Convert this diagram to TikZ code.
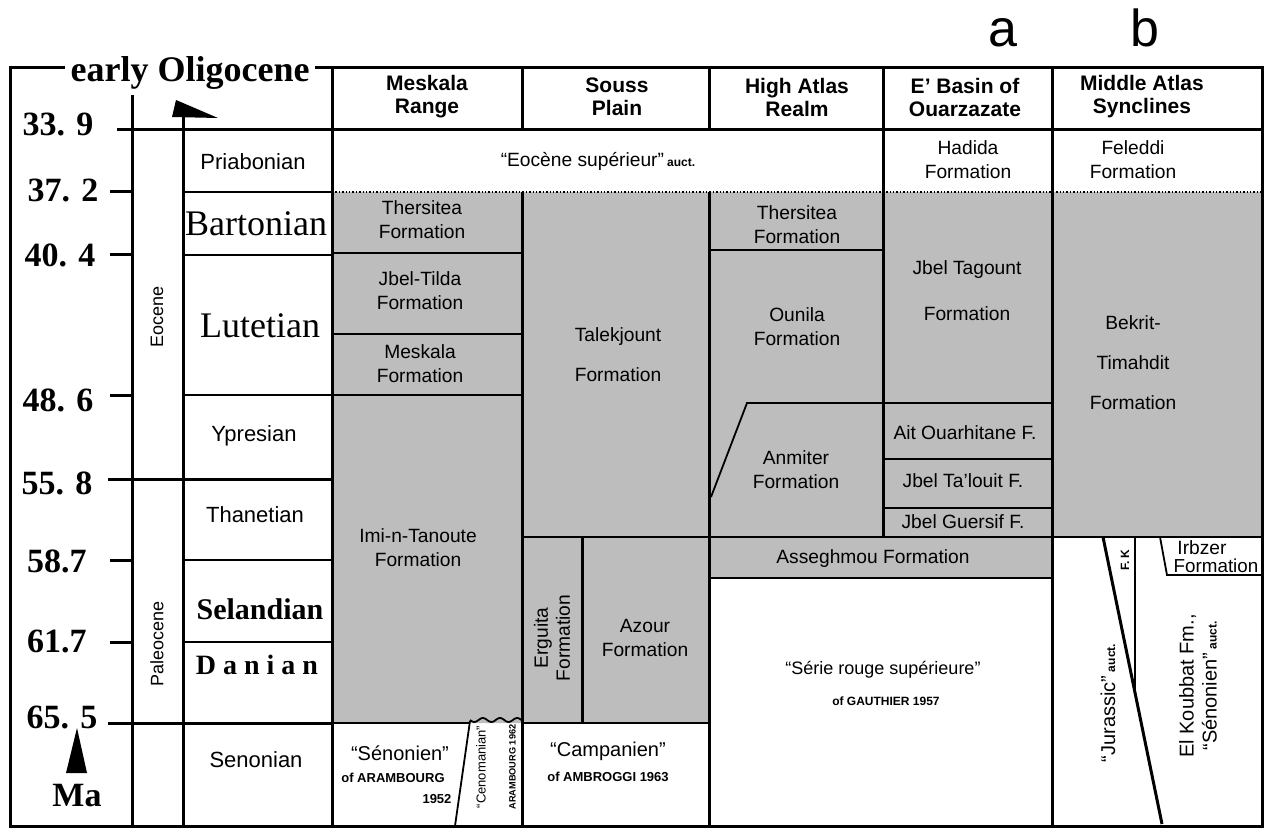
\documentclass[tikz,border=0pt]{standalone}
\usepackage{fontspec}
\setmainfont{Liberation Sans}
\newfontfamily\tms{Liberation Serif}
\usepackage{xcolor}
\usepackage{tikz}

\definecolor{stip}{gray}{0.74}
\newcommand{\auctnote}{\,{\fontsize{6}{6}\selectfont\bfseries auct.}}
\tikzset{
	bnd/.style={line width=1.5pt},
	thn/.style={line width=0.9pt},
	edge/.style={line width=0.7pt, densely dotted},
	hdr/.style={font=\bfseries\fontsize{10.5}{11.5}\selectfont, align=center, inner sep=0pt},
	frm/.style={font=\fontsize{9.6}{12}\selectfont, align=center, inner sep=0pt},
	stg/.style={font=\fontsize{11}{12}\selectfont, inner sep=0pt},
	big/.style={font=\tms\fontsize{18}{18}\selectfont, inner sep=0pt},
	age/.style={font=\tms\bfseries\fontsize{17}{17}\selectfont, inner sep=0pt},
	cite/.style={font=\bfseries\fontsize{6.5}{7}\selectfont, inner sep=0pt},
}

\begin{document}
\begin{tikzpicture}[x=0.5pt,y=-0.5pt]
	\useasboundingbox (0,0) rectangle (1266,829);

	\fill[stip] (332,192) -- (1262,192) -- (1262,537) -- (1052,537) -- (1052,578) -- (709,578) -- (709,723) -- (332,723) -- cycle;
	\draw[edge] (332,192) -- (1262,192);

	% frame and axis
	\draw[bnd] (10,826) -- (10,68) -- (1262,68) -- (1262,826) -- cycle;
	\node[age, font=\tms\bfseries\fontsize{18}{18}\selectfont, fill=white, inner xsep=3pt, anchor=base] (earlyOligocene) at (190,82) {early Oligocene};
	\node[font=\fontsize{26}{26}\selectfont, anchor=base, inner sep=0pt] (colA) at (1003,47) {a};
	\node[font=\fontsize{26}{26}\selectfont, anchor=base, inner sep=0pt] (colB) at (1145,47) {b};

	\draw[bnd] (117,130) -- (1262,130);
	\draw[bnd] (132,95) -- (132,826);
	\draw[bnd] (183,826) -- (183,112);
	\fill (176,100) -- (218,118) -- (172,117) -- cycle;
	\fill (77,728) -- (87,773) -- (66,773) -- cycle;
	\node[age] (ma) at (77,796) {Ma};

	\draw[bnd] (110,192) -- (132,192);
	\draw[bnd] (110,255) -- (132,255);
	\draw[bnd] (110,395) -- (132,395);
	\draw[bnd] (108,479) -- (332,479);
	\draw[bnd] (110,560) -- (132,560);
	\draw[bnd] (110,642) -- (132,642);
	\draw[bnd] (108,723) -- (332,723);
	\draw[thn] (183,192) -- (332,192);
	\draw[thn] (183,255) -- (332,255);
	\draw[thn] (183,395) -- (332,395);
	\draw[thn] (183,560) -- (332,560);
	\draw[thn] (183,642) -- (332,642);

	\node[age] (age339) at (58,124) {33. 9};
	\node[age] (age372) at (63,190) {37. 2};
	\node[age] (age404) at (60,255) {40. 4};
	\node[age] (age486) at (58,400) {48. 6};
	\node[age] (age558) at (57,483) {55. 8};
	\node[age] (age587) at (57,561) {58.7};
	\node[age] (age617) at (57,641) {61.7};
	\node[age] (age655) at (62,717) {65. 5};

	\node[stg, rotate=90, font=\fontsize{9}{9}\selectfont] (eocene) at (157,317) {Eocene};
	\node[stg, rotate=90, font=\fontsize{9}{9}\selectfont] (paleocene) at (157,644) {Paleocene};

	\node[stg] (priabonian) at (253,162) {Priabonian};
	\node[big] (bartonian) at (256,224) {Bartonian};
	\node[big] (lutetian) at (260,326) {Lutetian};
	\node[stg] (ypresian) at (254,436) {Ypresian};
	\node[stg] (thanetian) at (255,515) {Thanetian};
	\node[big, font=\tms\bfseries\fontsize{15}{15}\selectfont] (selandian) at (260,609) {Selandian};
	\node[big, font=\tms\bfseries\fontsize{14}{14}\selectfont] (danian) at (257,665) {D a n i a n};
	\node[stg] (senonian) at (256,760) {Senonian};

	% columns
	\draw[bnd] (332,68) -- (332,826);
	\draw[bnd] (522,68) -- (522,130) (522,192) -- (522,826);
	\draw[bnd] (709,68) -- (709,130) (709,192) -- (709,826);
	\draw[bnd] (883,68) -- (883,537);
	\draw[bnd] (1052,68) -- (1052,826);

	\node[hdr] (hMeskala) at (427,97) {Meskala\\Range};
	\node[hdr] (hSouss) at (617,97) {Souss\\Plain};
	\node[hdr] (hHighAtlas) at (797,97) {High Atlas\\Realm};
	\node[hdr] (hOuarzazate) at (965,97) {E' Basin of\\Ouarzazate};
	\node[hdr] (hMiddleAtlas) at (1142,97) {Middle Atlas\\Synclines};

	\node[frm] (eoceneSup) at (598,161) {“Eocène supérieur”\auctnote};
	\node[frm] (hadida) at (968,160) {Hadida\\Formation};
	\node[frm] (feleddi) at (1133,160) {Feleddi\\Formation};

	% Meskala Range
	\draw[thn] (332,253) -- (522,253);
	\draw[line width=0.6pt] (332,334) -- (522,334);
	\draw[thn] (332,395) -- (522,395);
	\draw[thn] (332,723) -- (470,723);
	\draw[thn] (470,721) -- (455,826);
	\draw[thn] plot[domain=470:522, samples=40] (\x,{720+2*sin(21*(\x-470))});
	\node[frm] (thersiteaM) at (422,220) {Thersitea\\Formation};
	\node[frm] (jbelTilda) at (420,291) {Jbel-Tilda\\Formation};
	\node[frm] (meskalaFm) at (420,364) {Meskala\\Formation};
	\node[frm] (imiTanoute) at (418,548) {Imi-n-Tanoute\\Formation};
	\node[frm, font=\fontsize{10}{12}\selectfont] (senonienA) at (400,753) {“Sénonien”};
	\node[cite] (arambourgA) at (393,778) {of ARAMBOURG};
	\node[cite] (arambourgB) at (437,799) {1952};
	\node[rotate=90, align=center, inner sep=0pt] (cenomanian) at (496,767) {{\fontsize{6.5}{7}\selectfont “Cenomanian”}\\[3pt]{\fontsize{4.6}{5}\selectfont\bfseries ARAMBOURG 1962}};

	% Souss Plain
	\draw[thn] (522,537) -- (1262,537);
	\draw[bnd] (582,537) -- (582,723);
	\draw[thn] (522,723) -- (709,723);
	\node[frm] (talekjount) at (618,355) {Talekjount\\[8pt]Formation};
	\node[frm, rotate=90, font=\fontsize{9.6}{11}\selectfont] (erguita) at (552,638) {Erguita\\Formation};
	\node[frm] (azour) at (645,638) {Azour\\Formation};
	\node[frm, font=\fontsize{10}{12}\selectfont] (campanien) at (608,751) {“Campanien”};
	\node[cite] (ambroggi) at (608,777) {of AMBROGGI 1963};

	% High Atlas Realm
	\draw[thn] (709,250) -- (883,250);
	\draw[thn] (711,497) -- (747,403) -- (1052,403);
	\draw[thn] (709,578) -- (1052,578);
	\node[frm] (thersiteaH) at (797,225) {Thersitea\\Formation};
	\node[frm] (ounila) at (797,327) {Ounila\\Formation};
	\node[frm] (anmiter) at (796,470) {Anmiter\\Formation};
	\node[frm] (asseghmou) at (873,559) {Asseghmou Formation};
	\node[frm, font=\fontsize{9}{11}\selectfont] (serieRouge) at (883,670) {“Série rouge supérieure”};
	\node[cite, font=\bfseries\fontsize{6}{7}\selectfont] (gauthier) at (886,701) {of GAUTHIER 1957};

	% E' Basin of Ouarzazate
	\draw[thn] (883,459) -- (1052,459);
	\draw[thn] (883,508) -- (1052,508);
	\node[frm] (tagount) at (967,291) {Jbel Tagount\\[11pt]Formation};
	\node[frm] (ouarhitane) at (965,433) {Ait Ouarhitane F.};
	\node[frm] (talouit) at (963,481) {Jbel Ta'louit F.};
	\node[frm] (guersif) at (963,522) {Jbel Guersif F.};

	% Middle Atlas Synclines
	\draw[bnd] (1103,537) -- (1162,824);
	\draw[thn] (1135,537) -- (1135,692);
	\draw[thn] (1160,537) -- (1167,575) -- (1262,575);
	\node[frm, font=\fontsize{9.6}{20}\selectfont] (bekrit) at (1133,363) {Bekrit-\\Timahdit\\Formation};
	\node[frm] (irbzerA) at (1202,548) {Irbzer};
	\node[frm, font=\fontsize{9.4}{11}\selectfont] (irbzerB) at (1216,566) {Formation};
	\node[cite, rotate=90, font=\bfseries\fontsize{6}{6}\selectfont] (fk) at (1125,560) {F. K};
	\node[frm, rotate=90, font=\fontsize{10}{11}\selectfont] (jurassic) at (1108,703) {“Jurassic”\auctnote};
	\node[frm, rotate=90, font=\fontsize{10}{11.5}\selectfont] (koubbat) at (1198,686) {El Koubbat Fm.,\\“Sénonien”\auctnote};
\end{tikzpicture}
\end{document}
